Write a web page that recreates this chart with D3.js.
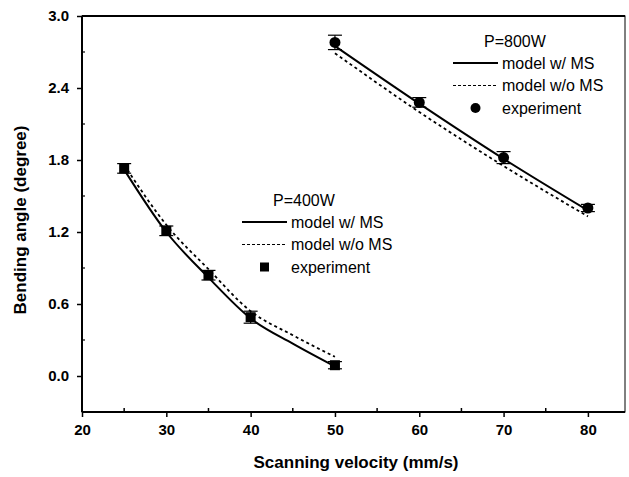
<!DOCTYPE html>
<html>
<head>
  <style>
    body { margin: 0; background: #fff; }
    text { font-family: "Liberation Sans", Arial, sans-serif; fill: #000; }
  </style>
</head>
<body>
  <svg id="chart"></svg>
  <script src="https://d3js.org/d3.v7.min.js"></script>
  <script>
    // data
    var velocity400 = [25, 30, 35, 40, 50];
    var exp400 = [1.73, 1.21, 0.84, 0.49, 0.09];
    var err400 = [0.04, 0.04, 0.04, 0.05, 0.03];
    var modelVel400 = [25, 30, 35, 40, 45, 50];
    var withMS400 = [1.72, 1.20, 0.82, 0.48, 0.27, 0.08];
    var withoutMS400 = [1.76, 1.26, 0.89, 0.54, 0.34, 0.16];

    var velocity800 = [50, 60, 70, 80];
    var exp800 = [2.78, 2.28, 1.82, 1.40];
    var err800 = [0.06, 0.04, 0.05, 0.03];
    var withMS800 = [2.75, 2.27, 1.81, 1.38];
    var withoutMS800 = [2.69, 2.20, 1.75, 1.33];

    var xTicks = [20, 30, 40, 50, 60, 70, 80];
    var yTicks = [0.0, 0.6, 1.2, 1.8, 2.4, 3.0];
    var legendLabels = ["model w/ MS", "model w/o MS", "experiment"];

    var width = 629, height = 477;
    var pLeft = 82, pRight = 625, pTop = 16, pBottom = 412;

    var svg = d3.select("#chart").attr("width", width).attr("height", height);

    var x = d3.scaleLinear().domain([20, 84.4]).range([pLeft, pRight]);
    var y = d3.scaleLinear().domain([-0.3, 3.0]).range([pBottom, pTop]);

    // frame
    svg.append("rect")
      .attr("x", pLeft).attr("y", pTop)
      .attr("width", pRight - pLeft).attr("height", pBottom - pTop)
      .attr("fill", "none").attr("stroke", "#000").attr("stroke-width", 1);
    svg.append("line").attr("x1", pLeft).attr("x2", pLeft).attr("y1", pTop).attr("y2", pBottom)
      .attr("stroke", "#000").attr("stroke-width", 2);
    svg.append("line").attr("x1", pLeft).attr("x2", pRight).attr("y1", pBottom).attr("y2", pBottom)
      .attr("stroke", "#000").attr("stroke-width", 2);
    svg.append("line").attr("x1", pLeft).attr("x2", pRight).attr("y1", pTop).attr("y2", pTop)
      .attr("stroke", "#000").attr("stroke-width", 2);

    // axes
    var xAxis = d3.axisBottom(x).tickValues(xTicks).tickSize(5).tickPadding(7).tickFormat(d3.format("d"));
    var gx = svg.append("g").attr("transform", "translate(0," + pBottom + ")").call(xAxis);
    var yAxis = d3.axisLeft(y).tickValues(yTicks).tickSize(5).tickPadding(8).tickFormat(d3.format(".1f"));
    var gy = svg.append("g").attr("transform", "translate(" + pLeft + ",0)").call(yAxis);
    [gx, gy].forEach(function(g) {
      g.select(".domain").remove();
      g.selectAll(".tick line").attr("stroke", "#000").attr("stroke-width", 1.5);
      g.selectAll(".tick text").style("font-size", "15px").style("font-weight", "bold")
        .style("font-family", "'Liberation Sans', Arial, sans-serif");
    });

    // minor ticks (inside)
    var xMinor = d3.range(25, 85, 10);
    svg.append("g").selectAll("line").data(xMinor).enter().append("line")
      .attr("x1", function(d) { return x(d); }).attr("x2", function(d) { return x(d); })
      .attr("y1", pBottom).attr("y2", pBottom - 4)
      .attr("stroke", "#000").attr("stroke-width", 1.5);
    var yMinor = [-0.3, 0.3, 0.9, 1.5, 2.1, 2.7];
    svg.append("g").selectAll("line").data(yMinor).enter().append("line")
      .attr("x1", pLeft).attr("x2", pLeft + 3)
      .attr("y1", function(d) { return y(d); }).attr("y2", function(d) { return y(d); })
      .attr("stroke", "#000").attr("stroke-width", 1.2);

    // axis titles
    svg.append("text")
      .attr("x", 356).attr("y", 468)
      .attr("text-anchor", "middle")
      .style("font-size", "17px").style("font-weight", "bold")
      .text("Scanning velocity (mm/s)");
    svg.append("text")
      .attr("transform", "translate(26,220) rotate(-90)")
      .attr("text-anchor", "middle")
      .style("font-size", "17px").style("font-weight", "bold")
      .text("Bending angle (degree)");

    // model lines
    var line = d3.line()
      .x(function(d) { return x(d[0]); })
      .y(function(d) { return y(d[1]); })
      .curve(d3.curveMonotoneX);

    function drawModel(vel, vals, dashed) {
      svg.append("path")
        .datum(d3.zip(vel, vals))
        .attr("d", line)
        .attr("fill", "none")
        .attr("stroke", "#000")
        .attr("stroke-width", dashed ? 1.8 : 2)
        .attr("stroke-dasharray", dashed ? "3,3" : null);
    }
    drawModel(modelVel400, withMS400, false);
    drawModel(modelVel400, withoutMS400, true);
    drawModel(velocity800, withMS800, false);
    drawModel(velocity800, withoutMS800, true);

    // error bars
    function drawErr(vel, vals, errs) {
      var g = svg.append("g");
      var data = d3.zip(vel, vals, errs);
      g.selectAll(".v").data(data).enter().append("line")
        .attr("x1", function(d) { return x(d[0]); }).attr("x2", function(d) { return x(d[0]); })
        .attr("y1", function(d) { return y(d[1] - d[2]); }).attr("y2", function(d) { return y(d[1] + d[2]); })
        .attr("stroke", "#000").attr("stroke-width", 1.2);
      [1, -1].forEach(function(s) {
        g.selectAll(".c" + s).data(data).enter().append("line")
          .attr("x1", function(d) { return x(d[0]) - 7; }).attr("x2", function(d) { return x(d[0]) + 7; })
          .attr("y1", function(d) { return y(d[1] + s * d[2]); }).attr("y2", function(d) { return y(d[1] + s * d[2]); })
          .attr("stroke", "#000").attr("stroke-width", 1.2);
      });
    }
    drawErr(velocity400, exp400, err400);
    drawErr(velocity800, exp800, err800);

    // experiment markers
    svg.append("g").selectAll("rect").data(d3.zip(velocity400, exp400)).enter().append("rect")
      .attr("x", function(d) { return x(d[0]) - 5; })
      .attr("y", function(d) { return y(d[1]) - 5; })
      .attr("width", 10).attr("height", 10).attr("fill", "#000");
    svg.append("g").selectAll("circle").data(d3.zip(velocity800, exp800)).enter().append("circle")
      .attr("cx", function(d) { return x(d[0]); })
      .attr("cy", function(d) { return y(d[1]); })
      .attr("r", 5.5).attr("fill", "#000");

    // legends
    function legend(lx, ly, title, marker) {
      var g = svg.append("g").attr("transform", "translate(" + lx + "," + ly + ")");
      g.append("text").attr("x", 31).attr("y", 0).attr("dy", "0.35em")
        .style("font-size", "16px").text(title);
      g.append("line").attr("x1", 0).attr("x2", 45).attr("y1", 22).attr("y2", 22)
        .attr("stroke", "#000").attr("stroke-width", 2);
      g.append("line").attr("x1", 0).attr("x2", 45).attr("y1", 44.5).attr("y2", 44.5)
        .attr("stroke", "#000").attr("stroke-width", 1.2).attr("stroke-dasharray", "3,2");
      if (marker === "square") {
        g.append("rect").attr("x", 18).attr("y", 62.5).attr("width", 9).attr("height", 9).attr("fill", "#000");
      } else {
        g.append("circle").attr("cx", 22.5).attr("cy", 67).attr("r", 5).attr("fill", "#000");
      }
      g.selectAll(".lab").data(legendLabels).enter().append("text")
        .attr("x", 49).attr("y", function(d, i) { return 22 + i * 22.5; }).attr("dy", "0.35em")
        .style("font-size", "16px").text(function(d) { return d; });
    }
    legend(242, 200, "P=400W", "square");
    legend(453, 41, "P=800W", "circle");
  </script>
</body>
</html>
